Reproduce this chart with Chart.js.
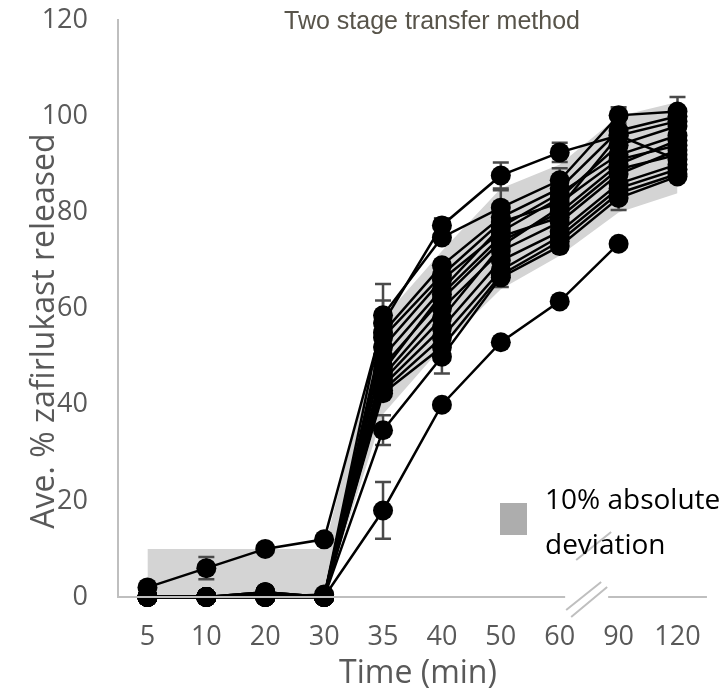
<!DOCTYPE html>
<html>
<head>
<meta charset="utf-8">
<script src="https://cdn.jsdelivr.net/npm/chart.js@4"></script>
<style>
  html, body { margin: 0; padding: 0; background: #fff; }
  #wrap { width: 725px; height: 694px; }
</style>
</head>
<body>
<div id="wrap"><canvas id="chart" width="725" height="694"></canvas></div>
<script>
// time points (min) - evenly spaced categories, with an axis break between 60 and 90
const times = ['5', '10', '20', '30', '35', '40', '50', '60', '90', '120'];
const yTicks = [0, 20, 40, 60, 80, 100, 120];

// 10% absolute deviation band
const bandLow = [0, 0, 0, 0, 38, 52, 64, 71, 80, 84];
const bandHigh = [10, 10, 10, 10, 58, 72, 85, 90, 100, 103];

// individual release profiles
const s1 = [2, 6, 10, 12, 57, 77.3, 87.7, 92.5, 96, 99];
const s2 = [0, 0, 0, 0, 18, 40, 53, 61.5, 73.5, null];
const s3 = [0, 0, 0.5, 0, 34.7, 50, 66.5, 73, 83, 87.5];
const s4 = [0, 0, 0, 0, 58.6, 74.8, 81, 86.7, 100.2, 101];
const s5 = [0, 0, 1, 0, 55, 69, 79, 85, 97, 100];
const s6 = [0, 0, 0, 0, 52, 66, 76, 83, 94, 98];
const s7 = [0, 0, 1, 0, 50, 64, 77, 84, 92, 96];
const s8 = [0, 0, 0, 0, 48, 62, 74, 80, 90, 95];
const s9 = [0, 0, 0, 0.5, 46, 60, 72, 78, 88, 93];
const s10 = [0, 0, 0, 0, 45, 58, 73, 81, 96, 91];
const s11 = [0, 0, 0, 0, 44, 56, 70, 76, 86, 90];
const s12 = [0, 0, 1, 0, 43, 54, 68, 75, 85, 89];
const s13 = [0, 0, 0, 0, 42.4, 52, 67, 74, 84, 88];
const s14 = [0, 0, 0, 0, 54, 67, 78, 82, 91, 94];
const s15 = [0, 0, 0.5, 0, 47, 63, 75, 79, 89, 92];

// standard deviations shown as error bars (0 = none visible)
const e1 = [0, 2.3, 0, 0, 4.7, 1.5, 2.7, 2, 0, 0];
const e2 = [0, 0, 0, 0, 5.9, 0, 0, 0, 0, 0];
const e3 = [0, 0, 0, 0, 3.1, 3.5, 2, 0, 2.5, 0];
const e4 = [0, 0, 0, 0, 6.5, 0, 3.6, 2.5, 1.7, 3];

const series = [s1, s2, s3, s4, s5, s6, s7, s8, s9, s10, s11, s12, s13, s14, s15];
const errors = [e1, e2, e3, e4];

const tickColor = '#595959';
const axisColor = '#bfbfbf';

const lineSets = series.map((d, i) => ({
  label: 'Batch ' + (i + 1),
  data: d,
  borderColor: '#000',
  backgroundColor: '#000',
  borderWidth: 2.5,
  pointRadius: 10,
  pointHoverRadius: 10,
  pointBorderWidth: 0,
  tension: 0,
  fill: false,
  clip: false,
  order: 1
}));

const datasets = [
  {
    label: 'band low',
    data: bandLow,
    borderWidth: 0,
    pointRadius: 0,
    fill: false,
    order: 10
  },
  {
    label: '10% absolute deviation',
    data: bandHigh,
    borderWidth: 0,
    pointRadius: 0,
    backgroundColor: '#d4d4d4',
    fill: '-1',
    order: 9
  }
].concat(lineSets);

const decor = {
  id: 'decor',
  afterDatasetDraw(chart, args) {
    // error bars sit on top of the band, under the markers
    if (args.index !== 1) return;
    const ctx = chart.ctx;
    const x = chart.scales.x, y = chart.scales.y;
    ctx.save();
    ctx.strokeStyle = '#4a4a4a';
    ctx.lineWidth = 2.5;
    errors.forEach((err, k) => {
      const vals = series[k];
      err.forEach((e, i) => {
        if (!e || vals[i] == null) return;
        const px = x.getPixelForValue(i);
        const top = y.getPixelForValue(vals[i] + e);
        const bot = y.getPixelForValue(vals[i] - e);
        ctx.beginPath();
        ctx.moveTo(px, top); ctx.lineTo(px, bot);
        ctx.moveTo(px - 8, top); ctx.lineTo(px + 8, top);
        ctx.moveTo(px - 8, bot); ctx.lineTo(px + 8, bot);
        ctx.stroke();
      });
    });
    ctx.restore();
  },
  afterDraw(chart) {
    const ctx = chart.ctx;
    const a = chart.chartArea;
    const x = chart.scales.x;
    const brk = (x.getPixelForValue(7) + x.getPixelForValue(8)) / 2;
    ctx.save();

    // broken x axis
    ctx.strokeStyle = axisColor;
    ctx.lineWidth = 2;
    ctx.beginPath();
    ctx.moveTo(a.left, a.bottom); ctx.lineTo(brk - 24, a.bottom);
    ctx.moveTo(brk + 19, a.bottom); ctx.lineTo(a.right, a.bottom);
    ctx.stroke();
    ctx.beginPath();
    ctx.moveTo(brk - 23, a.bottom + 13); ctx.lineTo(brk + 12, a.bottom - 15);
    ctx.moveTo(brk - 18, a.bottom + 20); ctx.lineTo(brk + 18, a.bottom - 10);
    ctx.moveTo(brk - 13, a.bottom - 37); ctx.lineTo(brk + 22, a.bottom - 65);
    ctx.stroke();

    // title
    ctx.fillStyle = '#58544a';
    ctx.font = '25px "Liberation Sans", Arial, sans-serif';
    ctx.textAlign = 'center';
    ctx.textBaseline = 'middle';
    ctx.fillText('Two stage transfer method', 432, 22);

    // axis titles
    ctx.fillStyle = tickColor;
    ctx.font = '32px "Open Sans", sans-serif';
    ctx.fillText('Time (min)', 418, 674);
    ctx.save();
    ctx.translate(45, 331);
    ctx.rotate(-Math.PI / 2);
    ctx.fillText('Ave. % zafirlukast released', 0, 0);
    ctx.restore();

    // legend
    ctx.fillStyle = '#adadad';
    ctx.fillRect(500, 503, 27, 32);
    ctx.fillStyle = '#000';
    ctx.font = '28px "Open Sans", sans-serif';
    ctx.textAlign = 'left';
    ctx.fillText('10% absolute', 545, 501);
    ctx.fillText('deviation', 545, 546);
    ctx.restore();
  }
};

new Chart(document.getElementById('chart'), {
  type: 'line',
  data: { labels: times, datasets: datasets },
  plugins: [decor],
  options: {
    responsive: false,
    animation: false,
    events: [],
    layout: { autoPadding: false, padding: { left: 0, right: 7, top: 20, bottom: 0 } },
    plugins: {
      legend: { display: false },
      title: { display: false },
      tooltip: { enabled: false }
    },
    scales: {
      x: {
        type: 'category',
        offset: true,
        grid: { display: false, drawTicks: false },
        border: { display: false },
        ticks: {
          color: tickColor,
          font: { family: 'Open Sans', size: 27 },
          padding: 24,
          maxRotation: 0,
          autoSkip: false
        },
        afterFit(scale) { scale.height = 97; }
      },
      y: {
        min: 0,
        max: 120,
        afterBuildTicks(scale) { scale.ticks = yTicks.map(v => ({ value: v })); },
        grid: {
          display: true,
          drawOnChartArea: false,
          drawTicks: true,
          tickLength: 26,
          color: 'rgba(0,0,0,0)'
        },
        border: { display: true, color: axisColor, width: 2 },
        ticks: {
          color: tickColor,
          font: { family: 'Open Sans', size: 27 },
          padding: 4
        },
        afterFit(scale) { scale.width = 118; }
      }
    }
  }
});
</script>
</body>
</html>
